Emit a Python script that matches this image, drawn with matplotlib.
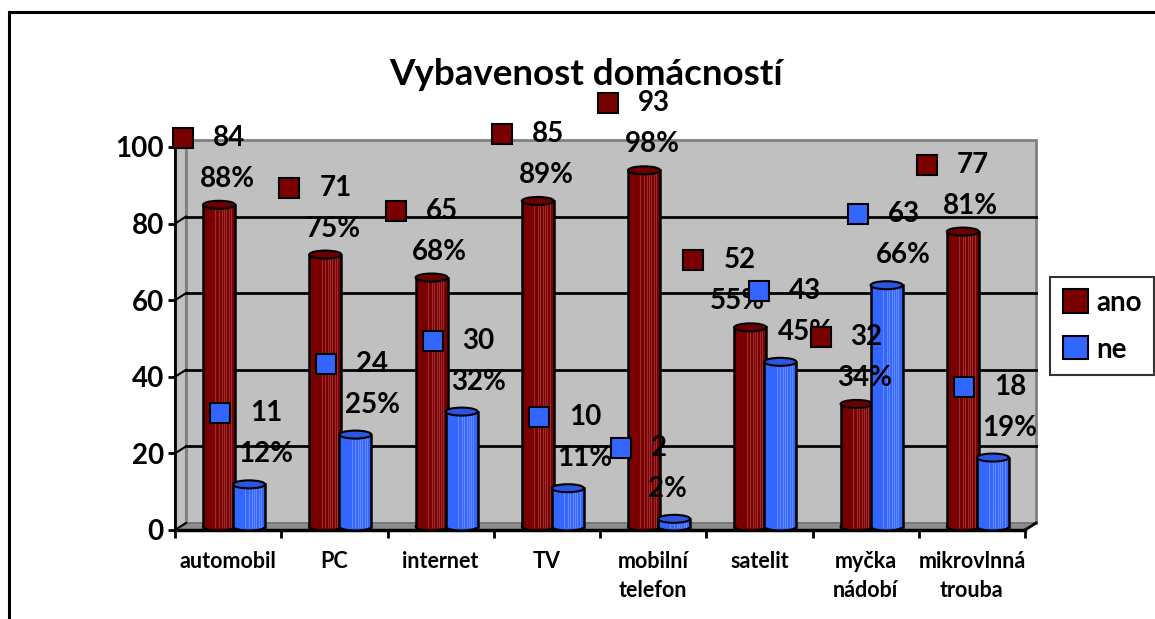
import matplotlib
matplotlib.use("Agg")
import matplotlib.pyplot as plt
from matplotlib.patches import Rectangle, Polygon, Ellipse, Patch
from matplotlib.transforms import offset_copy
import numpy as np

# data
categories = ["automobil", "PC", "internet", "TV", "mobilní\ntelefon",
              "satelit", "myčka\nnádobí", "mikrovlnná\ntrouba"]
ano = [84, 71, 65, 85, 93, 52, 32, 77]
ne = [11, 24, 30, 10, 2, 43, 63, 18]
respondents = 95
series_names = ["ano", "ne"]

plt.rcParams["font.family"] = ["Lato", "DejaVu Sans"]
plt.rcParams["font.weight"] = "bold"

RED, RED_TOP, RED_STRIPE = "#7A0000", "#6A0000", "#A33A3A"
BLUE, BLUE_TOP, BLUE_STRIPE = "#3366FF", "#2A56E0", "#6E92FF"

W, H = 1155, 619
fig = plt.figure(figsize=(W / 100, H / 100), dpi=100)
ax = fig.add_axes([175 / W, 89 / H, 850 / W, 383 / H])
ax.set_xlim(-0.5, len(categories) - 0.5)
ax.set_ylim(0, 100)
ax.patch.set_visible(False)

# 3d depth offset in data units (11 px right, 7 px up)
px_x = 850 / len(categories)
px_y = 383 / 100
dx, dy = 11 / px_x, 7 / px_y
x0, x1 = -0.5, len(categories) - 0.5

# walls and floor
ax.add_patch(Rectangle((x0 + dx, dy), x1 - x0, 100, facecolor="#C0C0C0",
                       edgecolor="#808080", lw=2, zorder=0, clip_on=False))
ax.add_patch(Polygon([(x0, 0), (x0, 100), (x0 + dx, 100 + dy), (x0 + dx, dy)],
                     closed=True, facecolor="#C0C0C0", edgecolor="#808080",
                     lw=1.5, zorder=0.1, clip_on=False))
ax.add_patch(Polygon([(x0, 0), (x1, 0), (x1 + dx, dy), (x0 + dx, dy)],
                     closed=True, facecolor="#8C8C8C", edgecolor="#707070",
                     lw=1, zorder=0.2, clip_on=False))
ax.plot([x1, x1 + dx], [0, dy], color="black", lw=2, zorder=0.3, clip_on=False)
for g in range(0, 101, 20):
    if 0 < g < 100:
        ax.plot([x0 + dx, x1 + dx], [g + dy, g + dy], color="black", lw=2,
                zorder=0.5, clip_on=False)
    ax.plot([x0, x0 + dx], [g, g + dy], color="black", lw=1.5, zorder=0.5,
            clip_on=False)

# cylinders
bar_w = 32 / px_x
shift = 6 / px_x
half = 15 / px_x
base = dy / 2
ell_h = 8 / px_y
stripes = [0.38, 0.5, 0.58, 0.66, 0.72, 0.8, 0.87]


def cylinder(xc, h, color, top_color, stripe_color, z):
    y0, y1 = base, base + h
    ax.add_patch(Ellipse((xc, y0), bar_w, ell_h, facecolor=color,
                         edgecolor="black", lw=1.5, zorder=z))
    ax.add_patch(Rectangle((xc - bar_w / 2, y0), bar_w, h, facecolor=color,
                           edgecolor="none", zorder=z + 0.01))
    for f in stripes:
        xs = xc - bar_w / 2 + f * bar_w
        ax.plot([xs, xs], [y0, y1], color=stripe_color, lw=0.8, alpha=0.8,
                zorder=z + 0.02)
    for xs in (xc - bar_w / 2, xc + bar_w / 2):
        ax.plot([xs, xs], [y0, y1], color="black", lw=1.8, zorder=z + 0.03)
    ax.add_patch(Ellipse((xc, y1), bar_w, ell_h, facecolor=top_color,
                         edgecolor="black", lw=1.5, zorder=z + 0.04))


def pct(v):
    return f"{int(v * 100 / respondents + 0.5)}%"


def to_pt(p):
    return p * 0.72


# label offsets in pixels: (pct dx, pct dy, marker dx)
offsets = {"ano": (8, 26, -36), "ne": (17, 30, -29)}
nudges = {("satelit", "ano"): -21, ("mobilní\ntelefon", "ne"): -24,
          ("satelit", "ne"): 8}

for i, cat in enumerate(categories):
    for s, (vals, col, topc, strc, sgn) in enumerate(
            [(ano, RED, RED_TOP, RED_STRIPE, -1), (ne, BLUE, BLUE_TOP, BLUE_STRIPE, 1)]):
        v = vals[i]
        xc = i + shift + sgn * half
        cylinder(xc, v, col, topc, strc, 2 + i * 0.1 + s * 0.05)
        name = series_names[s]
        pdx, pdy, mdx = offsets[name]
        nud = nudges.get((cat, name), 0)
        ytop = base + v
        ax.annotate(pct(v), xy=(xc, ytop), xytext=(to_pt(pdx + nud), to_pt(pdy)),
                    textcoords="offset points", ha="center", va="center",
                    fontsize=20, fontweight="bold", zorder=20,
                    annotation_clip=False)
        tr = offset_copy(ax.transData, fig=fig, x=to_pt(mdx + nud),
                         y=to_pt(pdy + 41), units="points")
        ax.plot([xc], [ytop], marker="s", markersize=14, color=col,
                markeredgecolor="black", markeredgewidth=1.5, transform=tr,
                zorder=20, clip_on=False)
        ax.annotate(str(v), xy=(xc, ytop),
                    xytext=(to_pt(mdx + nud + 30), to_pt(pdy + 41)),
                    textcoords="offset points", ha="left", va="center",
                    fontsize=20, fontweight="bold", zorder=20,
                    annotation_clip=False)

# axes
for side in ("top", "right"):
    ax.spines[side].set_visible(False)
ax.spines["left"].set_linewidth(2)
ax.spines["bottom"].set_linewidth(2.5)
ax.spines["left"].set_zorder(1)
ax.spines["bottom"].set_zorder(1)
ax.set_yticks(range(0, 101, 20))
ax.tick_params(axis="y", direction="out", length=5, width=2, labelsize=20, pad=3)
ax.set_xticks(np.arange(x0, x1 + 0.01, 1))
ax.set_xticklabels([])
ax.tick_params(axis="x", which="major", direction="out", length=6, width=2)
ax.set_xticks(range(len(categories)), minor=True)
ax.set_xticklabels(categories, minor=True, fontsize=15.5, fontweight="bold",
                   linespacing=1.5)
ax.tick_params(axis="x", which="minor", length=0, pad=15)

fig.text(586 / W, 1 - 85 / H, "Vybavenost domácností", ha="center",
         va="baseline", fontsize=26.5, fontweight="bold")

handles = [Patch(facecolor=RED, edgecolor="black", lw=1.5),
           Patch(facecolor=BLUE, edgecolor="black", lw=1.5)]
leg = fig.legend(handles, series_names, loc="center",
                 bbox_to_anchor=(1102 / W, 1 - 326 / H), frameon=True,
                 fancybox=False, edgecolor="black", prop={"size": 20, "weight": "bold"},
                 handlelength=0.9, handleheight=0.9, handletextpad=0.3,
                 labelspacing=0.75, borderpad=0.45, borderaxespad=0)
leg.get_frame().set_linewidth(1.5)

fig.patches.append(Rectangle((9 / W, -0.1), 1.0, 1.1 - 12 / H, transform=fig.transFigure,
                             fill=False, edgecolor="black", lw=2.2))

fig.savefig("out.png", dpi=100)
